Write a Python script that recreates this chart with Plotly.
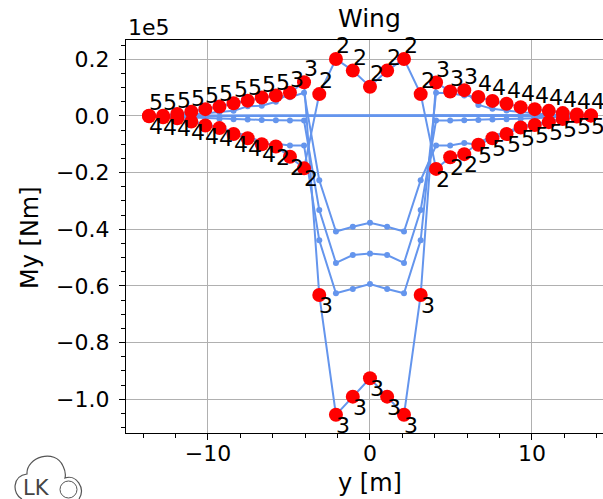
import numpy as np
import plotly.graph_objects as go

# ---------------- data (bending moment My in units of 1e5 Nm) ----------------
stations_y = [-13.64, -12.77, -11.90, -11.03, -10.16, -9.29, -8.42, -7.55, -6.68, -5.81,
              -4.94, -4.07, -3.13, -2.10, -1.06, 0.00, 1.06, 2.10, 3.13, 4.08,
              4.95, 5.82, 6.69, 7.56, 8.43, 9.30, 10.17, 11.04, 11.90, 12.77, 13.64]

my_case1 = [0.000, -0.002, -0.004, -0.006, -0.008, -0.010, -0.012, -0.013, -0.014, -0.015,
            -0.016, -0.016, -0.332, -0.519, -0.491, -0.486, -0.491, -0.519, -0.332, -0.016,
            -0.016, -0.015, -0.014, -0.013, -0.012, -0.010, -0.008, -0.006, -0.004, 0.000, 0.0015]
my_case2 = [0.000, -0.004, -0.007, -0.017, -0.030, -0.039, -0.057, -0.071, -0.092, -0.108,
            -0.144, -0.185, 0.077, 0.201, 0.160, 0.103, 0.160, 0.201, 0.077, -0.187,
            -0.146, -0.135, -0.095, -0.071, -0.057, -0.037, -0.028, -0.019, -0.009, -0.001, 0.0015]
my_case3 = [0.000, 0.000, 0.002, 0.005, 0.009, 0.013, 0.018, 0.034, 0.036, 0.050,
            0.082, 0.119, -0.632, -1.055, -0.991, -0.926, -0.991, -1.055, -0.632, 0.118,
            0.086, 0.091, 0.039, 0.025, 0.019, 0.013, 0.009, 0.005, 0.002, 0.000, 0.0015]
my_case4 = [-0.001, -0.005, -0.008, -0.020, -0.034, -0.043, -0.064, -0.079, -0.100, -0.098,
            -0.104, -0.104, -0.439, -0.626, -0.611, -0.593, -0.611, -0.626, -0.439, 0.082,
            0.080, 0.072, 0.067, 0.053, 0.043, 0.031, 0.024, 0.018, 0.010, 0.005, 0.002]
my_case5 = [0.001, 0.001, 0.007, 0.015, 0.024, 0.033, 0.045, 0.054, 0.065, 0.072,
            0.066, 0.082, -0.227, -0.408, -0.391, -0.377, -0.391, -0.408, -0.227, -0.104,
            -0.104, -0.096, -0.102, -0.079, -0.064, -0.041, -0.032, -0.022, -0.011, -0.002, 0.001]

case_ids = [1, 2, 3, 4, 5]
cases = [my_case1, my_case2, my_case3, my_case4, my_case5]

x_ticks = [-10, 0, 10]
y_ticks = [-1.0, -0.8, -0.6, -0.4, -0.2, 0.0, 0.2]

# ---------------- layout geometry ----------------
W, H = 603, 499
ML, MT, MB, MR = 126, 40, 66, 0
PW, PH = W - ML - MR, H - MT - MB
X0, XSCALE = -15.06, 16.2          # data units at left edge, px per metre
YTOP, YSCALE = 0.268, 283.3        # data value at top edge, px per 1e5 Nm
xrange_ = [X0, X0 + PW / XSCALE]
yrange_ = [YTOP - PH / YSCALE, YTOP]

def px(xp):
    return (xp - ML) / PW

def py(yp):
    return (H - MB - yp) / PH

FONT = "DejaVu Sans"
BLUE = "#6495ED"
TICKSIZE = 22
LABELSIZE = 22

fig = go.Figure()

# blue load-case lines (closed ring over the stations)
for cid, vals in zip(case_ids, cases):
    xs = list(stations_y) + [stations_y[0]]
    ys = list(vals) + [vals[0]]
    fig.add_trace(go.Scatter(x=xs, y=ys, mode="lines+markers",
                             line=dict(color=BLUE, width=2),
                             marker=dict(color=BLUE, size=6),
                             showlegend=False, hoverinfo="skip"))

arr = np.array(cases)
imax = arr.argmax(axis=0)
imin = arr.argmin(axis=0)
vmax = arr.max(axis=0)
vmin = arr.min(axis=0)

fig.add_trace(go.Scatter(x=stations_y, y=vmax, mode="markers",
                         marker=dict(color="red", size=14), showlegend=False))
fig.add_trace(go.Scatter(x=stations_y, y=vmin, mode="markers",
                         marker=dict(color="red", size=14), showlegend=False))

annotations = []
for xv, yv, k in zip(stations_y, vmax, imax):
    annotations.append(dict(x=xv, y=yv, xref="x", yref="y", text=str(case_ids[k]),
                            showarrow=False, xanchor="left", yanchor="bottom",
                            xshift=-2, yshift=-1,
                            font=dict(family=FONT, size=LABELSIZE, color="black")))
for xv, yv, k in zip(stations_y, vmin, imin):
    annotations.append(dict(x=xv, y=yv, xref="x", yref="y", text=str(case_ids[k]),
                            showarrow=False, xanchor="left", yanchor="top",
                            xshift=-2, yshift=4,
                            font=dict(family=FONT, size=LABELSIZE, color="black")))

# title, offset text, axis titles
annotations.append(dict(x=0, xref="x", y=py(18), yref="paper", text="Wing", showarrow=False,
                        xanchor="center", yanchor="middle",
                        font=dict(family=FONT, size=25, color="black")))
annotations.append(dict(x=px(126), xref="paper", y=py(28), yref="paper", text="1e5",
                        showarrow=False, xanchor="left", yanchor="middle",
                        font=dict(family=FONT, size=TICKSIZE, color="black")))
annotations.append(dict(x=px(30), xref="paper", y=py(238), yref="paper", text="My [Nm]",
                        showarrow=False, xanchor="center", yanchor="middle", textangle=-90,
                        font=dict(family=FONT, size=24, color="black")))
annotations.append(dict(x=0, xref="x", y=py(483), yref="paper", text="y [m]",
                        showarrow=False, xanchor="center", yanchor="middle",
                        font=dict(family=FONT, size=24, color="black")))
# logo text
annotations.append(dict(x=px(36), xref="paper", y=py(488), yref="paper", text="LK",
                        showarrow=False, xanchor="center", yanchor="middle",
                        font=dict(family=FONT, size=21, color="#444444")))

# logo cloud outline
def pt(a, b):
    return f"{px(a):.5f},{py(b):.5f}"

cloud = ("M " + pt(22, 499) +
         " C " + pt(12, 494) + " " + pt(12, 476) + " " + pt(27, 474) +
         " C " + pt(26, 457) + " " + pt(55, 448) + " " + pt(63, 466) +
         " C " + pt(65, 470) + " " + pt(66, 474) + " " + pt(65, 478) +
         " C " + pt(76, 474) + " " + pt(86, 488) + " " + pt(79, 499))
shapes = [dict(type="path", path=cloud, xref="paper", yref="paper",
               line=dict(color="#555555", width=1.2))]
shapes.append(dict(type="circle", xref="paper", yref="paper",
                   x0=px(60), x1=px(77), y0=py(498), y1=py(481),
                   line=dict(color="#555555", width=1)))

fig.update_layout(
    width=W, height=H,
    margin=dict(l=ML, r=MR, t=MT, b=MB, pad=0),
    paper_bgcolor="white", plot_bgcolor="white",
    showlegend=False,
    font=dict(family=FONT, size=TICKSIZE, color="black"),
    annotations=annotations,
    shapes=shapes,
)
fig.update_xaxes(range=xrange_, tickmode="array", tickvals=x_ticks,
                 ticks="outside", ticklen=6, tickwidth=1.2, tickcolor="black",
                 showline=True, linecolor="black", linewidth=1.2, mirror=True,
                 showgrid=True, gridcolor="#b0b0b0", gridwidth=1, zeroline=False,
                 ticklabelstandoff=-6,
                 tickfont=dict(family=FONT, size=TICKSIZE, color="black"),
                 minor=dict(tickmode="linear", tick0=0, dtick=2, ticks="outside",
                            ticklen=4, tickwidth=1, tickcolor="black", showgrid=False))
fig.update_yaxes(range=yrange_, tickmode="array", tickvals=y_ticks, tickformat=".1f",
                 ticks="outside", ticklen=6, tickwidth=1.2, tickcolor="black",
                 showline=True, linecolor="black", linewidth=1.2, mirror=False,
                 showgrid=True, gridcolor="#b0b0b0", gridwidth=1, zeroline=False,
                 ticklabelstandoff=5,
                 tickfont=dict(family=FONT, size=TICKSIZE, color="black"),
                 minor=dict(tickmode="linear", tick0=0, dtick=0.05, ticks="outside",
                            ticklen=4, tickwidth=1, tickcolor="black", showgrid=False))

fig.write_html("out.html")
